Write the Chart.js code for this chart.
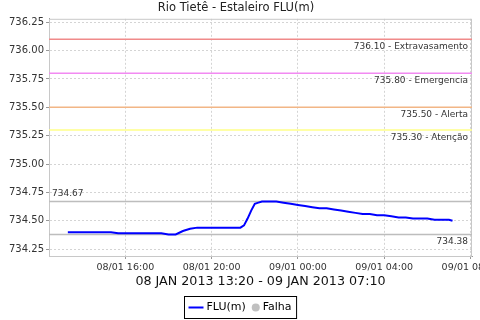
<!DOCTYPE html>
<html>
<head>
<meta charset="utf-8">
<script src="https://cdn.jsdelivr.net/npm/chart.js@4.4.0/dist/chart.umd.min.js"></script>
<style>
  html, body { margin: 0; padding: 0; background: #fff; }
  #wrap { width: 480px; height: 320px; }
</style>
</head>
<body>
<div id="wrap"><canvas id="chart" width="480" height="320"></canvas></div>
<script>
const chartTitle = "Rio Tietê - Estaleiro FLU(m)";
const periodLabel = "08 JAN 2013 13:20 - 09 JAN 2013 07:10";
const seriesName = "FLU(m)";
const failName = "Falha";

// readings (dd/mm hh:mm) and river level in metres
const times = [
  "08/01 13:20", "08/01 13:40", "08/01 14:00", "08/01 14:20", "08/01 14:40", "08/01 15:00",
  "08/01 15:20", "08/01 15:40", "08/01 16:00", "08/01 16:20", "08/01 16:40", "08/01 17:00",
  "08/01 17:20", "08/01 17:40", "08/01 18:00", "08/01 18:20", "08/01 18:40", "08/01 19:00",
  "08/01 19:20", "08/01 19:40", "08/01 20:00", "08/01 20:20", "08/01 20:40", "08/01 21:00",
  "08/01 21:20", "08/01 21:30", "08/01 21:40", "08/01 21:50", "08/01 22:00", "08/01 22:10",
  "08/01 22:20", "08/01 22:40", "08/01 23:00", "08/01 23:20", "08/01 23:40", "09/01 00:00",
  "09/01 00:20", "09/01 00:40", "09/01 01:00", "09/01 01:20", "09/01 01:40", "09/01 02:00",
  "09/01 02:20", "09/01 02:40", "09/01 03:00", "09/01 03:20", "09/01 03:40", "09/01 04:00",
  "09/01 04:20", "09/01 04:40", "09/01 05:00", "09/01 05:20", "09/01 05:40", "09/01 06:00",
  "09/01 06:20", "09/01 06:40", "09/01 07:00", "09/01 07:10"
];
const levels = [
  734.40, 734.40, 734.40, 734.40, 734.40, 734.40,
  734.40, 734.39, 734.39, 734.39, 734.39, 734.39,
  734.39, 734.39, 734.38, 734.38, 734.41, 734.43,
  734.44, 734.44, 734.44, 734.44, 734.44, 734.44,
  734.44, 734.46, 734.52, 734.59, 734.65, 734.66,
  734.67, 734.67, 734.67, 734.66, 734.65, 734.64,
  734.63, 734.62, 734.61, 734.61, 734.60, 734.59,
  734.58, 734.57, 734.56, 734.56, 734.55, 734.55,
  734.54, 734.53, 734.53, 734.52, 734.52, 734.52,
  734.51, 734.51, 734.51, 734.50
];

// alarm levels
const limitValues = [736.10, 735.80, 735.50, 735.30];
const limitNames = ["Extravasamento", "Emergencia", "Alerta", "Atenção"];
const limitColors = ["#f08a8a", "#f28af2", "#f2b686", "#ffff88"];

// axis ranges, hours counted from 08/01 00:00
const xMin = 12.46, xMax = 32.07;
const yMin = 734.19, yMax = 736.28;

function toHours(stamp) {
  const [date, clock] = stamp.split(" ");
  const day = Number(date.slice(0, 2));
  const [h, m] = clock.split(":").map(Number);
  return (day - 8) * 24 + h + m / 60;
}

function tickLabel(value) {
  const day = value >= 24 ? "09/01" : "08/01";
  const h = value % 24;
  return `${day} ${String(h).padStart(2, "0")}:00`;
}

const levelMax = Math.max(...levels);
const levelMin = Math.min(...levels);

function flatLine(value, color, width) {
  return {
    label: "",
    data: [{ x: xMin, y: value }, { x: xMax, y: value }],
    borderColor: color,
    borderWidth: width,
    pointRadius: 0,
    fill: false
  };
}

const datasets = [
  {
    label: seriesName,
    data: times.map((t, i) => ({ x: toHours(t), y: levels[i] })),
    borderColor: "#0000ff",
    borderWidth: 2,
    pointRadius: 0,
    tension: 0,
    fill: false
  },
  ...limitValues.map((v, i) => flatLine(v, limitColors[i], 1.5)),
  flatLine(levelMax, "#bdbdbd", 1.5),
  flatLine(levelMin, "#bdbdbd", 1.5)
];

const FONT = "'DejaVu Sans', sans-serif";

const annotations = {
  id: "annotations",
  beforeDatasetsDraw(chart) {
    const { ctx, chartArea: a } = chart;
    ctx.save();
    ctx.strokeStyle = "#c8c8c8";
    ctx.lineWidth = 1;
    ctx.strokeRect(a.left + 0.5, a.top + 0.5, a.right - a.left - 1, a.bottom - a.top);
    ctx.restore();
  },
  afterDatasetsDraw(chart) {
    const { ctx, chartArea: a, scales } = chart;
    const y = scales.y;
    ctx.save();
    ctx.font = `9px ${FONT}`;
    ctx.fillStyle = "#333";
    ctx.textAlign = "right";
    ctx.textBaseline = "top";
    limitValues.forEach((v, i) => {
      ctx.fillText(`${v.toFixed(2)} - ${limitNames[i]}`, a.right - 4, y.getPixelForValue(v) + 3);
    });
    ctx.fillText(levelMin.toFixed(2), a.right - 4, y.getPixelForValue(levelMin) + 3);
    ctx.textAlign = "left";
    ctx.textBaseline = "bottom";
    ctx.fillText(levelMax.toFixed(2), a.left + 3, y.getPixelForValue(levelMax) - 3);
    ctx.restore();
  },
  afterDraw(chart) {
    const { ctx, width, height } = chart;
    ctx.save();
    ctx.font = `11px ${FONT}`;
    const w1 = ctx.measureText(seriesName).width;
    const w2 = ctx.measureText(failName).width;
    const boxW = 4 + 15 + 3 + w1 + 6 + 8 + 3 + w2 + 5;
    const left = Math.round(width / 2 - boxW / 2) + 0.5;
    const top = 296.5;
    const cy = 307.5;
    ctx.strokeStyle = "#000";
    ctx.lineWidth = 1;
    ctx.strokeRect(left, top, boxW, 22);
    let x = left + 4;
    ctx.strokeStyle = "#0000ff";
    ctx.lineWidth = 2;
    ctx.beginPath();
    ctx.moveTo(x, cy);
    ctx.lineTo(x + 15, cy);
    ctx.stroke();
    x += 18;
    ctx.fillStyle = "#000";
    ctx.textBaseline = "middle";
    ctx.textAlign = "left";
    ctx.fillText(seriesName, x, cy);
    x += w1 + 6;
    ctx.fillStyle = "#c0c0c0";
    ctx.beginPath();
    ctx.arc(x + 4, cy, 4, 0, Math.PI * 2);
    ctx.fill();
    x += 11;
    ctx.fillStyle = "#000";
    ctx.fillText(failName, x, cy);
    ctx.restore();
  }
};

new Chart(document.getElementById("chart"), {
  type: "line",
  data: { datasets },
  options: {
    responsive: false,
    animation: false,
    devicePixelRatio: 1,
    layout: { padding: { top: 0, left: 0, right: 8, bottom: 31 } },
    plugins: {
      legend: { display: false },
      tooltip: { enabled: false },
      title: {
        display: true,
        text: chartTitle,
        color: "#222",
        font: { family: FONT, size: 11.5, weight: "normal" },
        padding: { top: 1, bottom: 4 }
      }
    },
    scales: {
      x: {
        type: "linear",
        min: xMin,
        max: xMax,
        afterFit(scale) {
          scale.height = 33;
          scale.paddingLeft = 0;
          scale.paddingRight = 0;
        },
        ticks: {
          stepSize: 4,
          includeBounds: false,
          autoSkip: false,
          maxRotation: 0,
          padding: 3,
          color: "#333",
          font: { family: FONT, size: 9.5 },
          callback: v => tickLabel(v)
        },
        grid: { color: "#d4d4d4", tickColor: "#999", tickLength: 3, tickBorderDash: [] },
        border: { color: "#999", dash: [2, 2] },
        title: {
          display: true,
          text: periodLabel,
          color: "#111",
          font: { family: FONT, size: 12.7 },
          padding: { top: 0, bottom: 0 }
        }
      },
      y: {
        min: yMin,
        max: yMax,
        afterFit(scale) {
          scale.width = 49;
          scale.paddingTop = 0;
          scale.paddingBottom = 0;
        },
        ticks: {
          stepSize: 0.25,
          includeBounds: false,
          padding: 2,
          color: "#333",
          font: { family: FONT, size: 10 },
          callback: v => v.toFixed(2)
        },
        grid: { color: "#d4d4d4", tickColor: "#999", tickLength: 3, tickBorderDash: [] },
        border: { color: "#999", dash: [2, 2] }
      }
    }
  },
  plugins: [annotations]
});
</script>
</body>
</html>
